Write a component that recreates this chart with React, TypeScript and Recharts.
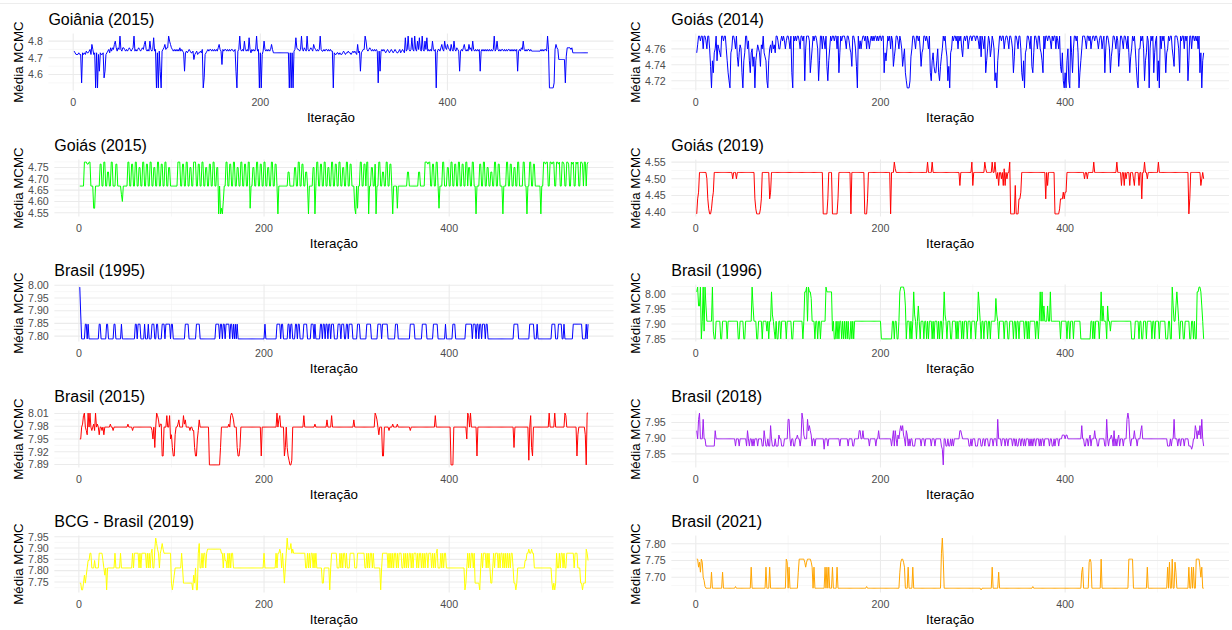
import React from "react";
import { LineChart, Line, XAxis, YAxis, CartesianGrid } from "recharts";

const FONT = '"Liberation Sans", Arial, sans-serif';
const ROW_H = 125.6;

// iteration axis (shared)
const iterTicks = [0, 200, 400];
const iterMinor = [100, 300, 500];

// Each trace: one letter per MCMC iteration, "a" = levels[0], "b" = levels[1], ...

// Goiânia (2015)
const goiania2015Levels = [4.52, 4.55, 4.58, 4.62, 4.66, 4.69, 4.71, 4.72, 4.73, 4.74, 4.75, 4.76, 4.78, 4.8, 4.82, 4.83];
const goiania2015Ticks = ["4.6", "4.7", "4.8"];
const goiania2015Trace = [
  "jihhhihhbi hihjiijkhm khiaiahdih hicdhijkil jlkmnljlkp",
  "kjllkjkjkl kjklpjkjkl kjklkmnkjk jnkjkojkai ajdajklmkl",
  "lpnmlkjkjk jkjljkjidi jijkjiijfh ijhiijikac hijkjkkjkj",
  "kjkjlmkjek jkkjkjkjkk jjkdajkpkj kjnkjkjoki kjkjkpjkai",
  "ahjnkjkjkj kmkiiiiiii iiiiiiiiii aiaiajkolk kjkpkjlkjp",
  "kjklkjmlkj kjkpkjjkjk kjkjkjjaih hiihihhiji hiijiihiji",
  "jihmijdijk kpnkjklkjk jkjkjbjdjk jkjijkjijk jijkjiijki",
  "jkjiojkpkj kokjpkjnko kjpkjnkojk jkjnkjkaik kjlmkjnlkm",
  "lkjmkjnkjl kjdjkjlmkj kjmkljnkjk jkjkdjkjkj kjkjkjkjkp",
  "jknkjkjkkj kjkjkkjkjk jkjkdjkjlk nkjkjkkjkj jjjjjjjjjk",
  "jkjkkjpkaa aaabkmlkff fffffbglll lkliiiiiii iiiiiiiiii",
];

// Goiás (2014)
const goias2014Levels = [4.711, 4.72, 4.73, 4.738, 4.745, 4.75, 4.755, 4.76, 4.765, 4.77, 4.776];
const goias2014Ticks = ["4.72", "4.74", "4.76"];
const goias2014Trace = [
  "gikkjkkhkk jhkkhdaecg hkeihgfkkj kkhecbaghk kjhkfdgihc",
  "aegkkhjecg hdfaegihgd ihkgfebaeh igjhigkkjh hjkjkjhjkk",
  "jhkcakjkjk kjhkkjkbhk kkjcehkjkk jhbekkhkjh kdbehkjkkj",
  "kkhkcgkjkk kjhkkjhgdk kjhdakhjhj kkjkhkjhjk jkjkkjkjkk",
  "jkkcgehkjk hkjdfhkkjh kjhdfhcbaa abfhkkjhkk jkhdghkkjk",
  "jhkcbegdcc ehcbdfhkjk hfbdaghkjk kjkhkjkhfj kjkkhjkkjk",
  "kkjkkjhkfk jhkcehkjfh kjhbcaehkk jkkhjkkjhk kjhcfkkjhk",
  "khcbeaghkk jhkdcgkkjh kkhgeckhkk jkkjhkjkkh kjhkdcgbac",
  "aehbakgchk kjkgacehkk kjhkkjkhjk kjkkjhjkkh jkchkkjhcf",
  "hkkjhkjdgk kjhkkjhkgc fhkjkhdbah hkjkhbegkj ahkjkcgjkb",
  "eakhkjkhcg hkjkkhfdkk kjhckjkkhk jkbekkhkkj kjkhkcgaeg",
];

// Goiás (2015)
const goias2015Levels = [4.545, 4.57, 4.6, 4.63, 4.668, 4.69, 4.71, 4.73, 4.75, 4.765, 4.774];
const goias2015Ticks = ["4.55", "4.60", "4.65", "4.70", "4.75"];
const goias2015Trace = [
  "eeeeekkkjj kkeeebbeee eejjeekkee hheekkeeej jeeeedceee",
  "eekkeejjee kkeeiieekk eejjeekkee iieekkeejj eekkeeiiee",
  "eeeeeekkke ejjeekkeei ieekkkeejj eekkeeiiee jjeekkeeii",
  "aeabaceekk eejjeekkee iieekkeejj eekkbeeiie ekkeejjeek",
  "keeiieekke ejjeaeeeee eeeeehheee eeiieekkee jjeehheaee",
  "eeiiaekkee jjeekkeeii eekkeejjee kkeeiieekk eejjeeebae",
  "beekkeejje kkaeeiieej aeekkeehhe ekkeejjeae eeebeeeeee",
  "eeeehheeee eeeeeehhee eeekkkjkke ejjeekkebe eekkeeeiie",
  "ekkeejjeek keejjeekke iieekkeeae eejjeekkee iieehheekk",
  "eejjeeeaee ekkeejjeei ieekkeeeek keeaeekkee jjeeeeeeae",
  "ekkjkkeekk jkkeekkjke ekkjeekkje ekjkeekjke ekkjekkejk",
];

// Goiás (2019)
const goias2019Levels = [4.395, 4.41, 4.44, 4.46, 4.48, 4.5, 4.519, 4.53, 4.55];
const goias2019Ticks = ["4.40", "4.45", "4.50", "4.55"];
const goias2019Trace = [
  "acdggggggg gfcbaabcdg gggggggggg gggggggggf gggfgggggg",
  "gggggggggg gggcbaaaab cggggggggc dggggggggg gggggggggg",
  "gggggggggg gggggggggg gggggggggg gggggggaaa aacggggaaa",
  "aaacgggggg gggggggagg gggggggggg ggaaacgggg gggggggggg",
  "gggggggggg agggihgggg gggggggggg gggggggggg gggggggggg",
  "iggggigggg gggggggggg gggggggggg gggggegggg ggggggggie",
  "gggggggggg ggihgggggg iggigfgegg fgehegfggi aaaaaeaaac",
  "cdgggggggg gggggggggg ggggggggcg egggggggaa aaabcccdcd",
  "dggggggggg gggggggggg fggfgggggg iggggggggg gggggggggg",
  "gggggigggg eggegfggge gggfegggge ggcggiggfg gggggggggg",
  "iggggggggg gggggggggg gggggggggg gggacggggg ggggggefgf",
];

// Brasil (1995)
const brasil1995Levels = [7.789, 7.847, 7.887, 7.993];
const brasil1995Ticks = ["7.80", "7.85", "7.90", "7.95", "8.00"];
const brasil1995Trace = [
  "dcaaaabbab aaaaaaaaaa abbaaaaaab baaaaaabba aaaaabaaaa",
  "aaaaaaaaaa bbabbbaaaa baaabaaabb baabbaaaab bbabbbbbab",
  "baaaaaaaaa aaaabbbbaa aaaaaabbbb aaaaaaaaaa aaaaaaabbb",
  "babbabbabb bbabbababa baaaaaaaaa aaaaaaaaaa aaaaaaaaaa",
  "baaaaaaaaa aaabbbbabb aaaaabbabb aaabbabbaa aabbbbaaaa",
  "bbbabaaaaa bbabbabbab babbbaaaab bbabbbaabb abbbbaaaaa",
  "bbbaaaaaaa bbbbbaaaaa aabbbbabbb bbbaaaaaaa abbbaaaaaa",
  "aaaaaaabbb bbaaaaaaaa bbbbbaaaaa aabbbbbaaa aaaaabaaaa",
  "aaabbbaaaa aaaaaaabbb bbbbabbbab babbabbbab baaaaaaaaa",
  "aaaaaaaaaa aaaaaaaaab bbbbaaaaaa aaaaaabbbb baaabaaaaa",
  "aaaaaaaaaa bbbbaaabbb baabaaaaaa aaabbbbbbb bbbaaaabab",
];

// Brasil (1996)
const brasil1996Levels = [7.85, 7.876, 7.909, 7.93, 7.96, 7.985, 8.007, 8.023];
const brasil1996Ticks = ["7.85", "7.90", "7.95", "8.00"];
const brasil1996Trace = [
  "gheehachbh ecccccchba acccccaacc cccacccccc cccccaaccc",
  "caaccccccc hecccaaccc caccccbcac cgdcbacaac cacccccacc",
  "cccaaccccc cccccacggh chggfcccac caccaccccc hggggggbca",
  "acacaccaca cacacaacac accccccccc cccccccccc cccccccccc",
  "aaaaaaaaaa aaccaccaac ghhhhgeacc cacacgdcac ecacccacca",
  "cacccacacc cacaccacgd cacccaaccc cacacccaca cccacccacc",
  "ccaccgecac cacccaccac ccccfdcacc cccacccaac cccaccacca",
  "cccccaccac accccccacc acgcgceccc eccgcccccc ccccaccccc",
  "caccacccac ccccccaaaa aaaaaaacca caccccacgc ecccaeccbc",
  "cccccccccc cccccccccc caaaacccca ccaacccacc cccaccaccc",
  "caccccccaa accaahecce gecacccaac ccccaaccac aagghhgeca",
];

// Brasil (2015)
const brasil2015Levels = [7.889, 7.9, 7.91, 7.93, 7.95, 7.96, 7.97, 7.978, 7.985, 7.995, 8.005, 8.011];
const brasil2015Ticks = ["7.89", "7.92", "7.95", "7.98", "8.01"];
const brasil2015Trace = [
  "eehiklhgfl hlhghiglhi hfhhghfhhh hhhihhghhh hhhhhhhhhh",
  "hhihhhhghh hhhhhhhhhh hhhhhhhhge hdhlkjhiic chhhkhhkef",
  "dccfhhijhh hhkijhhhhg hhggdccegj hhhhhhhhhh aaaaaaaaaa",
  "aadhhhhhhh hihklkjhhh dccdhhhhhh hhhhhhhhhh hhhhhhchhh",
  "hhhhhhhhhh hhhlhjkhhh hcdhdcbaab hhhhhhhhhh hhkhhhhhhh",
  "hhhhihhhhh hhhhhhhjhh hhkhhhhhhh hhhhhhhhhh hhhhhhjhhh",
  "hhhhhhhhhh hhhhhhhhhl kjhfhhhcch hhhhghhhih hhhihhhhhh",
  "hhhhhhhghh hhhhhhhhhh hhhhhhhhhh hhhhkhhhhh hhhhhhhhhh",
  "haaahhhhhh hhhhhhhhel khlhhhhhhc hhhhhhhhhh hhhhhhhhhh",
  "hhhhhhhhhh hhhhhhhhhd hhhhhhhhhh hhhhhbhkdc hhhhhhhhhh",
  "hhhhhhhlhh hhhlhhhhhh hhhhlkhhhh hhhhhhhcfh hhhhhhfall",
];

// Brasil (2018)
const brasil2018Levels = [7.815, 7.865, 7.875, 7.898, 7.91, 7.924, 7.94, 7.96, 7.98];
const brasil2018Ticks = ["7.85", "7.90", "7.95"];
const brasil2018Trace = [
  "fdhidddhdd cccccccccc fddddddddd dddddddddd ddcdddcddd",
  "ddddcfdcdd cdcdddcddd dccfdccdcc gdcccdccce ddcccddddh",
  "hdcddccdde ddcdiheddd hfgfecddcd ddddddddbd ddcddddddd",
  "dddddcdddd ddddcddddc cdddddffdd fddddddcdd ddddcddfdd",
  "dddddddddd dcdfcfdced fgfgedcfec dcddcccddd dddcdddcdd",
  "ddddcdddcd dddddcbadd ccdccdcdcd dddddffedd dddddccdcd",
  "ddcccdddcc ddcdddccdd dcdddchddd cdddcddcdd ddcddcdccd",
  "dcddcdcddd cdcdcddcdd dcdcddcddd ddcddccdcd ddcdddeeed",
  "eedddddddd dddddddgdd ccddcdecdd dfddccdddd ddcchdcdde",
  "dcfcdcdecd ddcdddhihd cdddfddcdd dfgddddddd dddddddddd",
  "dddddddddd cccdcddhdd dcddcdddcd dddcccbcdd gfdfegdhdc",
];

// BCG - Brasil (2019)
const bcg2019Levels = [7.715, 7.745, 7.78, 7.812, 7.845, 7.877, 7.895, 7.92, 7.944];
const bcg2019Ticks = ["7.75", "7.80", "7.85", "7.90", "7.95"];
const bcg2019Trace = [
  "bbaabcbcde effdddeddd dffffedcda ddddddddfd ddddfddddd",
  "dddddddfdf ffffdfdfff ffdfdfdfgd dgihgfdfgh gffffffffb",
  "abcddddddd fdbbbbbbbb bbacbdaafh ddfdffdfgg gggggggggg",
  "gggffdfeed fdfdffdddd dddddddddd dddddddddd dddddddddf",
  "dddddddddd ddfdffgfdf dbdfiggghf gfffffffff ffffddfdfd",
  "ffdfdfdddd ddbbdddddd adffffffdd dfdfdffdfd ddfffffddd",
  "ffffffffdd fdfdffdfdd dddddadfff fffdfdfdfd ffdfdfffdd",
  "fdfdfdffdf dfffdfdffd fdfdffdfff dfdfdfgddd fdfdffdddd",
  "dddddddddd ddddddabdf dfdffdfbbb bbadfdfffd fdfdbbdfdf",
  "ffdfdffdfd fdfdfdffdb babddddddd deeffgffgf fddddddddd",
  "dddddddddd bababfddfd ffdfddffff ffffdfffdd dbbabbbgfe",
];

// Brasil (2021)
const brasil2021Levels = [7.662, 7.667, 7.672, 7.69, 7.7, 7.715, 7.73, 7.745, 7.754, 7.77, 7.817];
const brasil2021Ticks = ["7.70", "7.75", "7.80"];
const brasil2021Trace = [
  "iighfihedc bbbbbbfbbb bbbbbbbbfb bbbbbbbbbb bbcbbbbbbb",
  "bbbbbbbbbg bbbbbbbbbb bbbbbgbbbg bbbbbbbbbb bbbbbbbihb",
  "gbbbbbbbbb fiiiiiihgh iiiihgbgbb bbbbbbbbbg bgbgbbbgbb",
  "bbgbbbbbbb bbbbbbbbbb bbbbbbbbbb bbbbcbbbbb bbbbbbbbbb",
  "bbbbbbbbbb bbbbbbbbbb fhiihgbbbg bbbbgbbbbb bbbbbbbbbb",
  "bbbbbbbbbb bbbbbjkibb bbbbbbbbbb bbbbbbbbbb bbbbbbbbbb",
  "bbbbbbbbab bbbbbbbbbb gbbbbbbfbb bbbbbbbbbb bbbbbbbbbb",
  "bbbbbbbbbb bbbbcbbbbb bbbbbbbbbb bbbbbbbbbb bbbbbbbbbb",
  "bbbbbbbbbb bbbbbbbfgb bbbbbhihbb bbbbbbbbib bbbbbbbbbb",
  "bbbbbbbbbb bbbbbbbbii iiibbbbbbb bbbbbbbbgb bbbbbbbbbb",
  "bbbbbbbbbb gbhbbibbhf bbbbbbbbbb bbbgbbgbgb biiiigegbb",
];

type PanelDef = { title: string; color: string; levels: number[]; ticks: string[]; trace: string[] };

const panels: PanelDef[] = [
  { title: "Goiânia (2015)", color: "#0000FF", levels: goiania2015Levels, ticks: goiania2015Ticks, trace: goiania2015Trace },
  { title: "Goiás (2014)", color: "#0000FF", levels: goias2014Levels, ticks: goias2014Ticks, trace: goias2014Trace },
  { title: "Goiás (2015)", color: "#00FF00", levels: goias2015Levels, ticks: goias2015Ticks, trace: goias2015Trace },
  { title: "Goiás (2019)", color: "#FF0000", levels: goias2019Levels, ticks: goias2019Ticks, trace: goias2019Trace },
  { title: "Brasil (1995)", color: "#0000FF", levels: brasil1995Levels, ticks: brasil1995Ticks, trace: brasil1995Trace },
  { title: "Brasil (1996)", color: "#00FF00", levels: brasil1996Levels, ticks: brasil1996Ticks, trace: brasil1996Trace },
  { title: "Brasil (2015)", color: "#FF0000", levels: brasil2015Levels, ticks: brasil2015Ticks, trace: brasil2015Trace },
  { title: "Brasil (2018)", color: "#A020F0", levels: brasil2018Levels, ticks: brasil2018Ticks, trace: brasil2018Trace },
  { title: "BCG - Brasil (2019)", color: "#FFFF00", levels: bcg2019Levels, ticks: bcg2019Ticks, trace: bcg2019Trace },
  { title: "Brasil (2021)", color: "#FFA500", levels: brasil2021Levels, ticks: brasil2021Ticks, trace: brasil2021Trace },
];

function decode(lines: string[], levels: number[]) {
  return lines
    .join("")
    .replace(/\s/g, "")
    .split("")
    .map((c, i) => ({ iter: i + 1, value: levels[c.charCodeAt(0) - 97] }));
}

// rough Arial width of a tick label at 10.67px
const labelWidth = (s: string) => s.split("").reduce((a, ch) => a + (ch === "." ? 0.278 : 0.556), 0) * 10.67;

function TracePanel({ p, x, y, w, mr }: { p: PanelDef; x: number; y: number; w: number; mr: number }) {
  const data = decode(p.trace, p.levels);
  const vals = data.map((d) => d.value);
  const lo = Math.min(...vals);
  const hi = Math.max(...vals);
  const pad = (hi - lo) * 0.05;
  const yDomain = [lo - pad, hi + pad];
  const n = data.length;
  const xDomain = [1 - (n - 1) * 0.05, n + (n - 1) * 0.05];
  const ticks = p.ticks.map(Number);
  const step = ticks[1] - ticks[0];
  const minor = [ticks[0] - step / 2, ...ticks.map((t) => t + step / 2)].filter((v) => v > yDomain[0] && v < yDomain[1]);
  const yW = 33.6 + Math.max(...p.ticks.map(labelWidth));
  const cx = (yW + w - mr) / 2;
  const tickStyle = { fill: "#4D4D4D", fontSize: 10.67, fontFamily: FONT };

  return (
    <div style={{ position: "absolute", left: x, top: y, width: w, height: ROW_H }}>
      <LineChart width={w} height={ROW_H} data={data} margin={{ top: 33.5, right: mr, bottom: 15.1, left: 0 }}>
        <CartesianGrid stroke="#F1F1F1" strokeWidth={0.6} horizontalValues={minor} verticalValues={iterMinor} />
        <CartesianGrid stroke="#EBEBEB" strokeWidth={1.1} horizontalValues={ticks} verticalValues={iterTicks} />
        <XAxis
          dataKey="iter"
          type="number"
          domain={xDomain}
          ticks={iterTicks}
          interval={0}
          allowDataOverflow
          axisLine={false}
          tickLine={false}
          tickSize={0}
          tickMargin={7.8}
          height={20}
          tick={tickStyle}
        />
        <YAxis
          type="number"
          domain={yDomain}
          ticks={ticks}
          interval={0}
          allowDataOverflow
          width={yW}
          axisLine={false}
          tickLine={false}
          tickSize={0}
          tickMargin={5.6}
          tickFormatter={(v: number) => p.ticks[ticks.indexOf(v)] ?? String(v)}
          tick={tickStyle}
        />
        <Line type="linear" dataKey="value" stroke={p.color} strokeWidth={1} dot={false} isAnimationActive={false} />
      </LineChart>
      <svg
        width={w}
        height={ROW_H}
        style={{ position: "absolute", left: 0, top: 0, pointerEvents: "none", overflow: "visible" }}
      >
        <text x={yW} y={25} fontSize={16} fontFamily={FONT} fill="#000">
          {p.title}
        </text>
        <text
          x={22.5}
          y={62}
          fontSize={13.33}
          fontFamily={FONT}
          fill="#000"
          textAnchor="middle"
          transform="rotate(-90 22.5 62)"
        >
          Média MCMC
        </text>
        <text x={cx} y={122} fontSize={13.33} fontFamily={FONT} fill="#000" textAnchor="middle">
          Iteração
        </text>
      </svg>
    </div>
  );
}

export default function App() {
  return (
    <div style={{ position: "absolute", left: 0, top: 0, width: 1232, height: 630, background: "#fff", overflow: "hidden" }}>
      <div style={{ position: "absolute", left: 0, top: 3, width: 1232, height: 1, background: "#EDEDED" }} />
      {panels.map((p, i) => {
        const row = Math.floor(i / 2);
        const right = i % 2 === 1;
        return (
          <TracePanel
            key={p.title}
            p={p}
            x={right ? 616.5 : 0}
            y={row * ROW_H}
            w={right ? 613 : 616}
            mr={right ? 1 : 2.5}
          />
        );
      })}
    </div>
  );
}
